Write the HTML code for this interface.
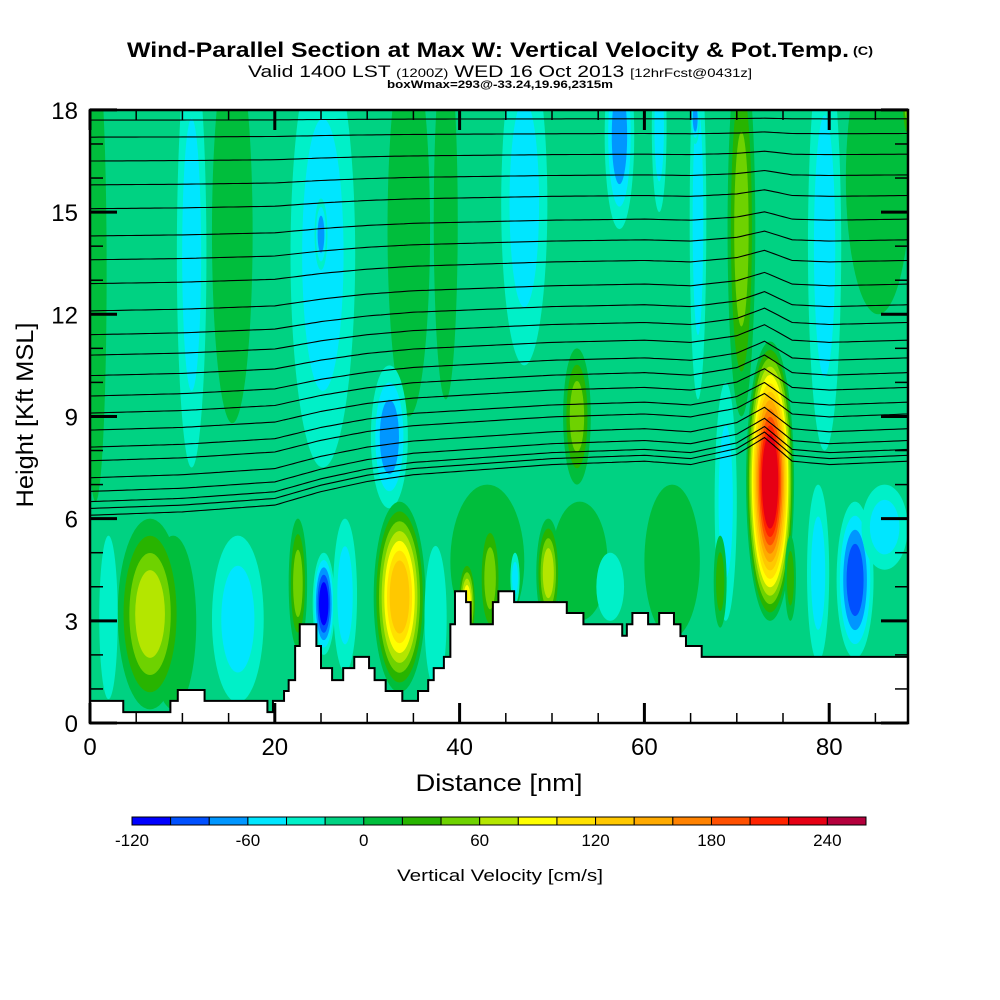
<!DOCTYPE html>
<html><head><meta charset="utf-8"><style>
html,body{margin:0;padding:0;background:#fff;}
svg{display:block;font-family:"Liberation Sans",sans-serif;}
</style></head><body>
<svg id="chart" width="1000" height="1000" viewBox="0 0 1000 1000">
<rect x="0" y="0" width="1000" height="1000" fill="#fff"/>
<text x="127" y="57" font-size="21" font-weight="bold" textLength="722" lengthAdjust="spacingAndGlyphs">Wind-Parallel Section at Max W: Vertical Velocity &amp; Pot.Temp.</text>
<text x="853" y="55" font-size="12" font-weight="bold" textLength="20" lengthAdjust="spacingAndGlyphs">(C)</text>
<text x="248" y="77" font-size="17" textLength="504" lengthAdjust="spacingAndGlyphs">Valid 1400 LST <tspan font-size="12">(1200Z)</tspan> WED 16 Oct 2013 <tspan font-size="12">[12hrFcst@0431z]</tspan></text>
<text x="387" y="88" font-size="11" font-weight="bold" textLength="226" lengthAdjust="spacingAndGlyphs">boxWmax=293@-33.24,19.96,2315m</text>
<defs><clipPath id="plotclip"><rect x="90" y="110" width="818" height="613"/></clipPath></defs>
<g id="plot" clip-path="url(#plotclip)"></g>
<g id="axes"></g>
<g id="cbar"></g>
<text transform="translate(33,415) rotate(-90)" text-anchor="middle" font-size="24" textLength="185" lengthAdjust="spacingAndGlyphs">Height [Kft MSL]</text>
<text x="499" y="791" text-anchor="middle" font-size="24" textLength="167" lengthAdjust="spacingAndGlyphs">Distance [nm]</text>
<text x="500" y="881" text-anchor="middle" font-size="17" textLength="206" lengthAdjust="spacingAndGlyphs">Vertical Velocity [cm/s]</text>
</svg>
<script>
// ---- data ----
const binColors = ["#0000ff","#0050ff","#0096ff","#00e6ff","#00f0c8","#00d282","#00be3c","#28b400","#6ed200","#b4e600","#ffff00","#ffe100","#ffc800","#ffaa00","#ff8200","#ff5000","#ff2300","#e60014","#b4003c"];
const binLabels = [-120,-60,0,60,120,180,240];
const backgroundVal = -10;
// vertical-velocity cells (streaks): center nm, half-width nm, top kft, bottom kft, peak cm/s
const streakX   = [43.0,53.0,63.0,9.0,
                   0.6,11.0,15.4,25.2,25.0,34.5,32.4,38.5,47.0,57.3,61.6,65.8,65.5,70.5,79.5,85.3,88.4,
                   6.5,2.0,16.0,22.5,25.3,27.6,33.5,37.4,40.8,43.3,46.0,49.6,52.7,56.3,68.8,73.6,68.2,75.8,78.8,82.8,86.0];
const streakW   = [4.0,3.0,3.0,2.5,
                   1.2,1.6,2.2,3.5,0.7,2.3,2.0,1.3,2.5,1.6,0.8,0.9,0.5,1.5,1.8,3.5,0.6,
                   3.5,1.0,2.8,1.0,1.2,1.3,2.8,1.2,1.0,1.2,0.5,1.3,1.5,1.5,1.2,2.6,0.7,0.6,1.2,2.0,2.5];
const streakTop = [7.0,6.5,7.0,5.5,
                   20,20,20,20,15.4,20,10.5,20,20,20,20,20,18.5,20,20,20,20,
                   6.0,5.5,5.5,6.0,5.0,6.0,6.5,5.2,4.8,6.0,5.0,6.0,11.0,5.0,10.0,11.2,5.5,5.5,7.0,6.5,7.0];
const streakBot = [2.5,3.0,2.5,0.4,
                   6.5,7.5,8.8,7.5,13.3,9.0,6.3,9.5,10.5,14.5,15.0,9.5,17.0,9.0,8.0,12.0,17.0,
                   0.4,0.7,0.6,2.2,2.0,1.5,0.9,1.0,2.2,2.5,3.5,2.8,7.0,3.0,3.0,3.0,2.8,3.0,1.8,1.9,4.5];
const streakVal = [10,10,10,10,
                   10,-50,10,-50,-70,10,-70,10,-50,-70,-50,-50,-70,50,-50,10,50,
                   70,-30,-50,50,-110,-50,130,-30,90,50,-50,70,50,-30,-50,230,30,30,-50,-90,-50];
// terrain steps: start nm, height kft
const terrainX = [0,3.6,8.7,9.5,12.4,19.2,19.8,21.0,21.5,22.2,22.7,24.5,25.0,26.2,27.4,28.6,30.2,30.8,32.0,33.8,35.5,36.6,37.2,38.3,39.0,39.5,40.7,41.2,43.6,44.2,45.9,51.6,53.4,57.6,58.1,58.7,60.4,61.6,63.2,63.9,64.5,66.2];
const terrainH = [0.65,0.32,0.65,0.97,0.65,0.32,0.65,0.94,1.26,2.26,2.9,2.26,1.61,1.26,1.61,1.94,1.61,1.26,0.94,0.65,0.94,1.26,1.61,1.94,2.9,3.87,3.55,2.9,3.55,3.87,3.55,3.23,2.9,2.56,2.9,3.23,2.9,3.23,2.9,2.55,2.26,1.94];
// potential temperature contours: height at left edge (kft) and rise profile
const thetaBase = [17.7,17.2,16.5,15.8,15.1,14.3,13.6,12.9,12.1,11.4,10.8,10.2,9.6,9.1,8.6,8.1,7.7,7.2,6.8,6.5,6.3,6.1];
const riseX = [0,10,20,25,30,35,40,50,60,65,70,73,76,80,88.5];
const riseV = [0,0.1,0.3,0.7,1.0,1.2,1.3,1.5,1.6,1.5,1.8,2.3,1.6,1.5,1.6];

// ---- scales ----
const X = nm => 90 + nm * 9.24;
const Y = k => 723 - k * 34.06;
const NS = "http://www.w3.org/2000/svg";
function mk(tag, attrs, parent){ const e=document.createElementNS(NS,tag); for(const k in attrs) e.setAttribute(k,attrs[k]); parent.appendChild(e); return e; }
const plot = document.getElementById('plot');
const binOf = v => Math.max(0, Math.min(18, Math.floor((v + 120) / 20)));
const baseBin = binOf(backgroundVal);
const bg = mk('rect',{x:90,y:110,width:818,height:613,fill:binColors[baseBin]},plot);


for (let i = 0; i < streakX.length; i++) {
  const tb = binOf(streakVal[i]); const n = Math.abs(tb - baseBin); const sg = Math.sign(tb - baseBin);
  const cy = Y((streakTop[i] + streakBot[i]) / 2);
  for (let k = 1; k <= n; k++) {
    const s = 1 - 0.72 * (k - 1) / n;
    const el = mk('ellipse',{cx:X(streakX[i]),cy:cy,rx:streakW[i]*9.24*s,ry:(streakTop[i]-streakBot[i])/2*34.06*s,fill:binColors[baseBin+sg*k]},plot);
    
    
  }
}
function rise(nm){ for(let i=0;i<riseX.length-1;i++){ if(nm<=riseX[i+1]){ const t=(nm-riseX[i])/(riseX[i+1]-riseX[i]); return riseV[i]+t*(riseV[i+1]-riseV[i]); } } return riseV[riseV.length-1]; }
thetaBase.forEach(b => {
  let pts=[]; for(let nm=0; nm<=88.6; nm+=0.5){ const h=b+rise(nm)*(18-b)/12; pts.push(X(nm).toFixed(1)+','+Y(h).toFixed(1)); }
  const pl = mk('polyline',{points:pts.join(' '),fill:'none',stroke:'#000','stroke-width':1.1},plot);
  
  
});
// terrain
let d = 'M'+X(0)+','+(724)+' ';
for (let i=0;i<terrainX.length;i++){ const x0=X(terrainX[i]); const x1=i<terrainX.length-1?X(terrainX[i+1]):910; d+='L'+x0+','+Y(terrainH[i])+' L'+x1+','+Y(terrainH[i])+' '; }
d += 'L910,724 Z';
const terr = mk('path',{d:d,fill:'#fff',stroke:'#000','stroke-width':2},plot);



// axes
const ax = document.getElementById('axes');
const frame = mk('rect',{x:90,y:110,width:818,height:613,fill:'none',stroke:'#000','stroke-width':2.5},ax);


for (let k=0;k<=18;k++){ const L = k%3===0?27:13; const y=Y(k);
  mk('line',{x1:90,y1:y,x2:90+L,y2:y,stroke:'#000','stroke-width':k%3===0?3:1.5},ax);
  mk('line',{x1:908,y1:y,x2:908-L,y2:y,stroke:'#000','stroke-width':k%3===0?3:1.5},ax);
  if(k%3===0){ const t=mk('text',{x:78,y:y+9,'text-anchor':'end','font-size':24},ax); t.textContent=k;
    
     }
}
for (let nm=0; nm<=88; nm+=5){ const maj = nm%20===0; const x=X(nm); const L=maj?20:10;
  mk('line',{x1:x,y1:723,x2:x,y2:723-L,stroke:'#000','stroke-width':maj?3:1.5},ax);
  mk('line',{x1:x,y1:110,x2:x,y2:110+L,stroke:'#000','stroke-width':maj?3:1.5},ax);
  if(maj){ const t=mk('text',{x:x,y:755,'text-anchor':'middle','font-size':24},ax); t.textContent=nm;
    
     }
}
// colorbar
const cb = document.getElementById('cbar'); const cw = (866-132)/19;
binColors.forEach((c,i)=>{ const r=mk('rect',{x:132+i*cw,y:817,width:cw,height:8,fill:c,stroke:'#000','stroke-width':1},cb);
  
   });
binLabels.forEach(v=>{ const t=mk('text',{x:132+(v+120)/20*cw,y:846,'text-anchor':'middle','font-size':17},cb); t.textContent=v;
  
   });
</script>
</body></html>
